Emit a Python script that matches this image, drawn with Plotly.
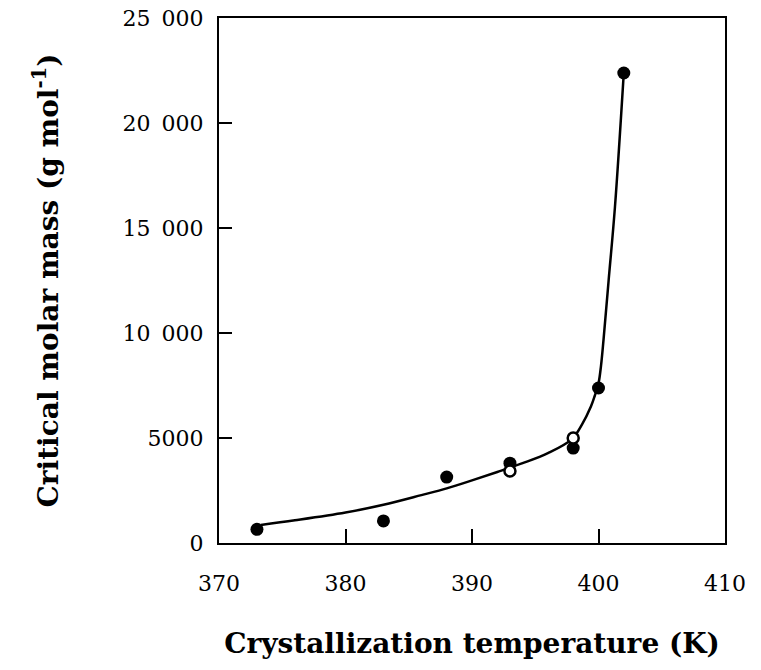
import plotly.graph_objects as go

# Measured critical molar mass vs crystallization temperature
temp_filled = [373, 383, 388, 393, 398, 400, 402]
mass_filled = [650, 1050, 3140, 3800, 4520, 7380, 22380]

temp_open = [393, 398]
mass_open = [3430, 5000]

# Trend curve through the data
curve_temp = [373.3, 376, 380, 383, 386, 388, 390, 392, 394, 396, 397.9, 398.7,
              399.4, 399.7, 400, 400.2, 400.4, 400.8, 401.3, 402]
curve_mass = [860, 1080, 1450, 1820, 2280, 2600, 2980, 3380, 3800, 4280, 4950, 5650,
              6500, 7000, 7600, 8450, 9700, 12500, 16000, 22400]

x_ticks = [370, 380, 390, 400, 410]
y_ticks = [0, 5000, 10000, 15000, 20000, 25000]
y_tick_labels = ["0", "5000", "10\u2002000", "15\u2002000", "20\u2002000", "25\u2002000"]

font_family = "DejaVu Serif"

fig = go.Figure()

fig.add_trace(go.Scatter(
    x=curve_temp, y=curve_mass, mode="lines",
    line=dict(color="black", width=2.5, shape="spline", smoothing=1.0),
    showlegend=False, hoverinfo="skip",
))

fig.add_trace(go.Scatter(
    x=temp_filled, y=mass_filled, mode="markers",
    marker=dict(symbol="circle", size=13, color="black", line=dict(width=0)),
    showlegend=False,
))

fig.add_trace(go.Scatter(
    x=temp_open, y=mass_open, mode="markers",
    marker=dict(symbol="circle", size=11, color="white", line=dict(color="black", width=2.5)),
    showlegend=False,
))

fig.update_layout(
    width=761, height=670,
    margin=dict(l=219, r=36, t=18, b=127),
    paper_bgcolor="white", plot_bgcolor="white",
    font=dict(family=font_family, size=22, color="black"),
)

fig.update_xaxes(
    range=[370, 410], tickvals=x_ticks, ticktext=[str(v) for v in x_ticks],
    showgrid=False, zeroline=False, automargin=False,
    showline=True, linecolor="black", linewidth=2, mirror=True,
    ticks="inside", ticklen=14, tickwidth=2, tickcolor="black",
    ticklabelstandoff=20,
    title=dict(text="<b>Crystallization temperature (K)</b>",
               font=dict(family=font_family, size=28), standoff=38),
)

fig.update_yaxes(
    range=[0, 25000], tickvals=y_ticks, ticktext=y_tick_labels,
    showgrid=False, zeroline=False, automargin=False,
    showline=True, linecolor="black", linewidth=2, mirror=True,
    ticks="inside", ticklen=13, tickwidth=2, tickcolor="black",
    ticklabelstandoff=9,
    title=dict(text="<b>Critical molar mass (g mol<sup>-1</sup>)</b>",
               font=dict(family=font_family, size=28), standoff=56),
)

fig.write_html("out.html")
